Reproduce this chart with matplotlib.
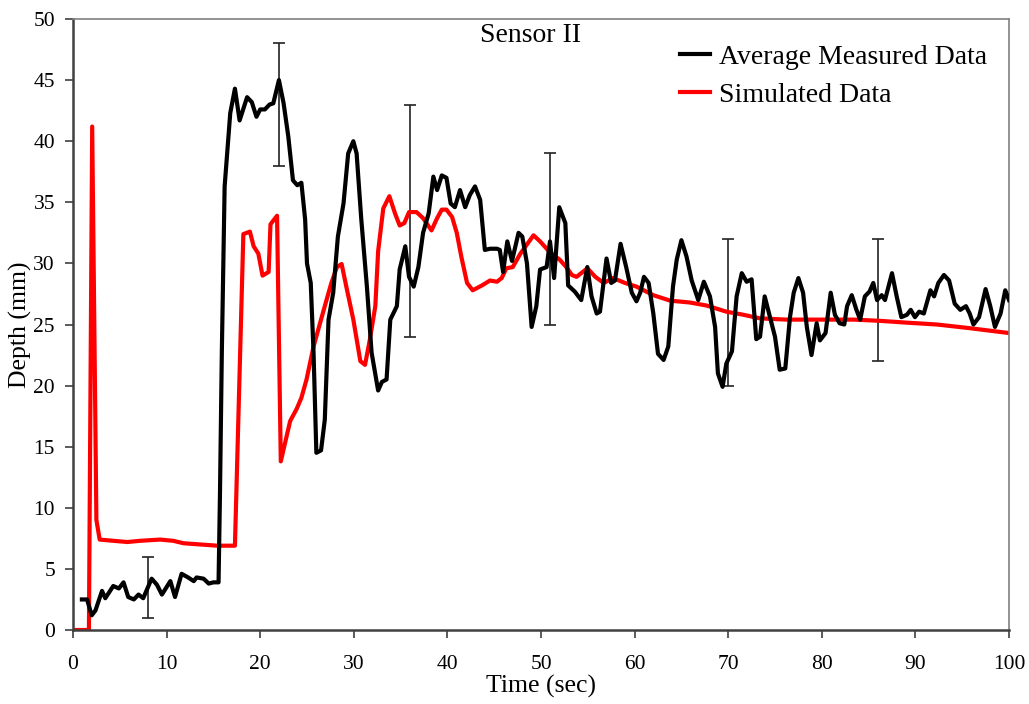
import matplotlib
matplotlib.use("Agg")
import matplotlib.pyplot as plt

plt.rcParams['font.family'] = ['Liberation Serif', 'DejaVu Serif']

meas_t = [0.95, 1.5, 2.0, 2.4, 3.1, 3.45, 4.3, 4.9, 5.4, 5.9, 6.5, 7.0, 7.5, 8.4, 8.97, 9.5,
          10.4, 10.9, 11.6, 12.3, 12.9, 13.2, 13.95, 14.5, 15.0, 15.55, 15.7, 15.9, 16.2, 16.8,
          17.3, 17.8, 18.6, 19.1, 19.6, 20.0, 20.5, 21.0, 21.4, 22.0, 22.5, 23.0, 23.5, 23.96,
          24.4, 24.8, 25.0, 25.4, 25.7, 26.0, 26.5, 26.9, 27.3, 27.8, 28.3, 28.9, 29.4, 29.95,
          30.3, 30.8, 31.4, 31.9, 32.6, 33.0, 33.5, 33.9, 34.6, 34.9, 35.5, 35.9, 36.4, 36.9,
          37.4, 38.0, 38.5, 38.9, 39.4, 39.9, 40.35, 40.8, 41.35, 41.9, 42.4, 42.95, 43.5, 44.0,
          44.55, 45.3, 45.6, 45.95, 46.4, 46.9, 47.6, 48.0, 48.5, 49.0, 49.5, 49.9, 50.6, 50.96,
          51.4, 51.95, 52.6, 52.9, 53.6, 54.3, 54.95, 55.4, 55.95, 56.3, 57.0, 57.5, 57.9, 58.5,
          59.1, 59.7, 60.2, 60.6, 61.0, 61.5, 62.0, 62.5, 63.1, 63.6, 64.1, 64.5, 65.0, 65.55,
          66.1, 66.8, 67.4, 68.05, 68.6, 68.9, 69.4, 69.8, 70.4, 70.9, 71.45, 71.97, 72.5, 73.0,
          73.4, 73.9, 74.5, 75.0, 75.5, 76.1, 76.6, 77.0, 77.5, 78.0, 78.4, 78.9, 79.45, 79.8,
          80.4, 80.95, 81.4, 81.9, 82.4, 82.7, 83.2, 83.7, 84.1, 84.6, 85.1, 85.5, 85.9, 86.4,
          86.75, 87.5, 88.0, 88.5, 89.1, 89.5, 89.95, 90.4, 90.9, 91.6, 92.0, 92.45, 93.05, 93.6,
          94.2, 94.8, 95.4, 95.8, 96.2, 96.8, 97.5, 98.0, 98.5, 99.1, 99.6, 100.0]
meas_d = [2.5, 2.5, 1.2, 1.6, 3.2, 2.6, 3.6, 3.4, 3.9, 2.7, 2.5, 2.9, 2.6, 4.2, 3.7, 2.9,
          4.0, 2.7, 4.6, 4.3, 4.0, 4.3, 4.2, 3.8, 3.9, 3.9, 11.0, 22.7, 36.3, 42.3,
          44.3, 41.7, 43.6, 43.2, 42.0, 42.6, 42.6, 43.0, 43.1, 45.0, 43.1, 40.4, 36.8, 36.4,
          36.6, 33.6, 30.0, 28.4, 22.7, 14.5, 14.7, 17.2, 25.4, 27.6, 32.2, 34.9, 39.0, 40.0,
          39.0, 33.6, 28.1, 22.7, 19.6, 20.3, 20.5, 25.4, 26.5, 29.5, 31.4, 28.9, 28.1, 29.7,
          32.5, 34.1, 37.1, 36.0, 37.2, 37.0, 34.9, 34.6, 36.0, 34.6, 35.6, 36.3, 35.2, 31.1,
          31.2, 31.2, 31.1, 29.3, 31.8, 30.2, 32.5, 32.2, 30.0, 24.8, 26.5, 29.5, 29.7, 31.8,
          28.8, 34.6, 33.3, 28.2, 27.7, 27.0, 29.7, 27.3, 25.9, 26.05, 30.4, 28.4, 28.6, 31.6,
          29.7, 27.6, 26.9, 27.6, 28.9, 28.4, 25.9, 22.6, 22.1, 23.2, 28.1, 30.3, 31.9, 30.55,
          28.6, 27.0, 28.5, 27.3, 24.8, 21.0, 19.9, 21.8, 22.8, 27.3, 29.2, 28.5, 28.7, 23.8,
          24.0, 27.3, 25.5, 24.0, 21.3, 21.4, 25.6, 27.6, 28.8, 27.6, 24.8, 22.5, 25.1, 23.7,
          24.3, 27.6, 25.8, 25.1, 25.0, 26.5, 27.4, 26.2, 25.4, 27.3, 27.7, 28.4, 27.0, 27.4,
          27.0, 29.2, 27.3, 25.6, 25.8, 26.2, 25.6, 26.05, 25.9, 27.8, 27.3, 28.4, 29.05, 28.6,
          26.7, 26.2, 26.5, 25.9, 25.0, 25.6, 27.9, 26.5, 24.8, 25.9, 27.8, 27.0]

sim_t = [0.3, 1.7, 2.05, 2.5, 2.85, 4.3, 5.8, 7.2, 9.3, 10.7, 11.8, 13.6, 15.4, 17.3, 18.2,
         18.9, 19.3, 19.8, 20.25, 20.9, 21.1, 21.8, 22.2, 23.2, 23.9, 24.4, 24.95, 25.7, 26.9,
         27.6, 28.2, 28.7, 29.2, 29.95, 30.7, 31.2, 31.7, 32.3, 32.6, 33.15, 33.8, 34.4, 34.9,
         35.4, 35.9, 36.7, 37.4, 38.3, 38.9, 39.4, 39.9, 40.5, 41.0, 41.5, 42.1, 42.7, 43.7,
         44.55, 45.3, 45.8, 46.3, 46.98, 47.8, 49.2, 49.9, 50.96, 52.0, 52.7, 53.3, 53.8, 54.95,
         55.8, 56.7, 57.7, 58.97, 60.2, 62.0, 63.8, 65.9, 67.7, 69.8, 71.6, 73.4, 76.25, 79.8,
         83.4, 86.2, 89.1, 92.3, 95.8, 100.0]
sim_d = [0.0, 0.0, 41.2, 9.0, 7.4, 7.3, 7.2, 7.3, 7.4, 7.3, 7.1, 7.0, 6.9, 6.9, 32.4,
         32.6, 31.4, 30.8, 29.0, 29.3, 33.2, 33.9, 13.8, 17.1, 18.1, 19.0, 20.5, 23.2, 26.5,
         28.4, 29.7, 29.95, 28.1, 25.4, 22.0, 21.7, 23.7, 26.5, 31.0, 34.5, 35.5, 34.1, 33.1,
         33.3, 34.2, 34.2, 33.7, 32.7, 33.7, 34.4, 34.4, 33.8, 32.5, 30.5, 28.4, 27.8, 28.2,
         28.6, 28.5, 28.8, 29.6, 29.7, 30.8, 32.3, 31.8, 30.9, 30.3, 29.7, 29.05, 28.9, 29.6,
         28.9, 28.4, 28.8, 28.4, 28.1, 27.4, 26.95, 26.8, 26.55, 26.05, 25.8, 25.5, 25.4, 25.4,
         25.4, 25.3, 25.15, 25.0, 24.7, 24.3]

err_t = [8, 22, 36, 51, 70, 86]
err_low = [1, 38, 24, 25, 20, 22]
err_high = [6, 48, 43, 39, 32, 32]

x_ticks = [0, 10, 20, 30, 40, 50, 60, 70, 80, 90, 100]
y_ticks = [0, 5, 10, 15, 20, 25, 30, 35, 40, 45, 50]

fig = plt.figure(figsize=(10.29, 7.04), dpi=100)
ax = fig.add_axes([73/1029, 1-630/704, 936/1029, 611/704])

for t, lo, hi in zip(err_t, err_low, err_high):
    mid = (lo + hi) / 2
    ax.errorbar([t], [mid], yerr=[[mid - lo], [hi - mid]], fmt='none',
                ecolor='#222222', elinewidth=1.2, capsize=4.5, capthick=1.2, zorder=1)

ax.plot(meas_t, meas_d, color='black', lw=3.0, label='Average Measured Data', zorder=3,
        solid_joinstyle='round')
ax.plot(sim_t, sim_d, color='#ff0000', lw=3.0, label='Simulated Data', zorder=2,
        solid_joinstyle='round')

ax.set_xlim(0, 100)
ax.set_ylim(0, 50)
ax.set_xticks(x_ticks)
ax.set_yticks(y_ticks)
ax.tick_params(axis='both', direction='out', length=6, width=1.2, color='#404040',
               labelsize=15.5, pad=7)
ax.tick_params(axis='x', pad=12)
for side in ['left', 'bottom']:
    ax.spines[side].set_color('#404040')
    ax.spines[side].set_linewidth(1.8)
for side in ['top', 'right']:
    ax.spines[side].set_color('#808080')
    ax.spines[side].set_linewidth(1.2)

ax.set_xlabel('Time (sec)', fontsize=18.5, labelpad=1)
ax.set_ylabel('Depth (mm)', fontsize=18.5, labelpad=1)
ax.text(0.489, 0.994, 'Sensor II', transform=ax.transAxes, ha='center', va='top', fontsize=20)

leg = ax.legend(loc='upper right', bbox_to_anchor=(0.997, 0.99), frameon=False, fontsize=20,
                handlelength=1.1, handletextpad=0.3, labelspacing=0.45, borderaxespad=0.3)

fig.savefig('out.png', dpi=100)
